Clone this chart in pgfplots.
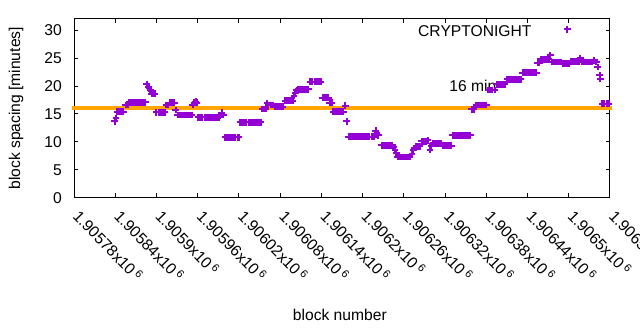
\documentclass[border=0pt]{standalone}
\usepackage{fontspec}
\setmainfont{Liberation Sans}
\usepackage{pgfplots}
\pgfplotsset{compat=1.18}
\definecolor{gpviolet}{HTML}{9400D3}
\definecolor{gporange}{HTML}{FFA500}
\newcommand\xl[1]{#1x10\,\textsuperscript{6}}
\begin{document}
\begin{tikzpicture}
\useasboundingbox (0bp,0bp) rectangle (640bp,330bp);
\begin{axis}[
  at={(74bp,132.3bp)}, anchor=south west,
  scale only axis, width=536bp, height=178.7bp,
  xmin=1905780, xmax=1906560, ymin=0, ymax=32,
  clip=false,
  scaled x ticks=false, scaled y ticks=false,
  axis line style={line width=1bp},
  every tick/.style={line width=1bp, black},
  tick align=inside, tick pos=both,
  major tick length=4.5bp,
  font=\fontsize{15.7}{18}\selectfont,
  /pgf/number format/assume math mode=true,
  ytick={0,5,10,15,20,25,30},
  yticklabel style={inner sep=0pt, xshift=-12bp},
  xtick={1905780,1905840,1905900,1905960,1906020,1906080,1906140,1906200,1906260,1906320,1906380,1906440,1906500,1906560},
  xticklabels={\xl{1.90578},\xl{1.90584},\xl{1.9059},\xl{1.90596},\xl{1.90602},\xl{1.90608},\xl{1.90614},\xl{1.9062},\xl{1.90626},\xl{1.90632},\xl{1.90638},\xl{1.90644},\xl{1.9065},\xl{1.90656}},
  xticklabel style={anchor=base west, inner sep=0pt, xshift=-2bp, yshift=-19.5bp, rotate=-46},
  xlabel={block number},
  ylabel={block spacing [minutes]},
  every axis x label/.style={at={(axis description cs:0.496,-0.656)}, anchor=center},
  every axis y label/.style={at={(axis description cs:-0.1082,0.5)}, rotate=90, anchor=center},
  legend plot pos=right,
  legend cell align=right,
  legend image code/.code={\path (0bp,0bp); \draw[#1] plot coordinates {(35bp,3bp)};},
  legend style={at={(axis description cs:0.9274,0.927)}, anchor=east, draw=none, fill=none, inner sep=0pt, nodes={inner sep=0pt}, column sep=0pt},
]
\node[anchor=west, inner sep=0pt] at (axis cs:1906326,20) {16 min};
\addplot[gpviolet, only marks, mark=+, mark size=3.4bp, line width=2bp]
coordinates {
(1905839,13.7) (1905841,14.2)
(1905843,15.4) (1905846,15.4) (1905849,15.4) (1905852,15.4)
(1905855,16.6) (1905858,16.6)
(1905860,17.1) (1905863,17.1) (1905866,17.1) (1905869,17.1) (1905872,17.1) (1905875,17.1) (1905878,17.1) (1905881,17.1) (1905884,17.1)
(1905886,20.3) (1905888,19.9) (1905889,19.6) (1905891,19.2)
(1905893,18.6) (1905896,18.6) (1905898,18.6)
(1905900,15.3) (1905903,15.3) (1905906,15.3) (1905909,15.3) (1905912,15.3)
(1905914,16.6) (1905917,16.6) (1905920,17.0) (1905923,17.0) (1905926,17.0)
(1905928,15.7)
(1905931,14.8) (1905934,14.8) (1905937,14.8) (1905940,14.8) (1905943,14.8) (1905946,14.8) (1905949,14.8) (1905951,14.8)
(1905953,16.6) (1905955,17.0) (1905957,17.2) (1905959,17.0)
(1905961,14.4) (1905964,14.4) (1905967,14.4) (1905970,14.4) (1905973,14.4) (1905976,14.4) (1905979,14.4) (1905982,14.4) (1905985,14.4) (1905988,14.4) (1905991,14.4)
(1905993,14.7) (1905995,15.2) (1905997,14.8)
(1906000,10.8) (1906003,10.8) (1906006,10.8) (1906009,10.8) (1906012,10.8) (1906015,10.8) (1906018,10.8) (1906020,10.8)
(1906022,13.5) (1906025,13.5) (1906028,13.5) (1906031,13.5) (1906034,13.5) (1906037,13.5) (1906040,13.5) (1906043,13.5) (1906046,13.5) (1906049,13.5) (1906052,13.5)
(1906054,15.9) (1906057,15.9) (1906059,15.9) (1906061,16.9) (1906063,16.6) (1906066,16.6) (1906069,16.6) (1906072,16.3) (1906075,16.3) (1906078,16.3) (1906081,16.3) (1906084,16.3)
(1906087,17.4) (1906090,17.4) (1906093,17.4) (1906096,17.4) (1906098,17.4)
(1906100,18.2) (1906102,18.8) (1906104,19.2)
(1906106,19.4) (1906109,19.4) (1906112,19.4) (1906115,19.4) (1906118,19.4) (1906121,19.4)
(1906124,20.8) (1906127,20.8) (1906130,20.8) (1906133,20.8) (1906136,20.8) (1906139,20.8)
(1906142,17.9) (1906145,17.9) (1906148,17.9) (1906150,17.9)
(1906152,17.0) (1906155,17.0)
(1906157,15.4) (1906160,15.4) (1906163,15.4) (1906166,15.4) (1906169,15.4) (1906172,15.4)
(1906175,16.5) (1906177,13.7)
(1906180,10.9) (1906183,10.9) (1906186,10.9) (1906189,10.9) (1906192,10.9) (1906195,10.9) (1906198,10.9) (1906201,10.9) (1906204,10.9) (1906207,10.9) (1906210,10.9) (1906213,10.9) (1906216,10.9)
(1906219,12.0) (1906221,11.5) (1906223,11.2)
(1906228,9.4) (1906231,9.4) (1906234,9.4) (1906237,9.4) (1906240,9.4) (1906243,9.4)
(1906245,9.0) (1906247,8.5) (1906249,8.0)
(1906251,7.3) (1906254,7.3) (1906257,7.3) (1906260,7.3) (1906263,7.3) (1906266,7.3) (1906269,7.3)
(1906272,7.9) (1906274,8.5) (1906276,8.9)
(1906278,9.2) (1906281,9.2) (1906283,9.2)
(1906286,10.1) (1906289,10.1) (1906292,10.1) (1906295,10.3)
(1906298,8.6) (1906300,9.3)
(1906302,9.7) (1906305,9.7) (1906308,9.7) (1906311,9.7) (1906314,9.7)
(1906317,9.3) (1906320,9.3) (1906323,9.3) (1906326,9.3) (1906329,9.3)
(1906331,11.2) (1906334,11.2) (1906337,11.2) (1906340,11.2) (1906343,11.2) (1906346,11.2) (1906349,11.2) (1906352,11.2) (1906355,11.2) (1906357,11.2)
(1906359,15.8) (1906362,15.8)
(1906365,16.6) (1906368,16.6) (1906371,16.6) (1906374,16.6) (1906377,16.6) (1906380,16.6)
(1906383,19.3) (1906386,19.3) (1906389,19.3) (1906392,19.3)
(1906395,20.3) (1906398,20.3) (1906401,20.3) (1906404,20.3) (1906407,20.3)
(1906410,21.2) (1906413,21.2) (1906416,21.2) (1906419,21.2) (1906422,21.2) (1906425,21.2) (1906428,21.2) (1906430,21.2)
(1906433,22.4) (1906436,22.4) (1906439,22.4) (1906442,22.4) (1906445,22.4) (1906448,22.4) (1906451,22.4) (1906453,22.4)
(1906455,24.2) (1906457,24.2)
(1906459,24.8) (1906462,24.8) (1906465,24.8) (1906468,24.8) (1906471,24.8) (1906473,25.5)
(1906475,24.3) (1906478,24.3) (1906481,24.3) (1906484,24.3) (1906487,24.3) (1906489,24.3)
(1906491,24.0) (1906494,24.0) (1906497,24.0) (1906500,24.0)
(1906503,24.4) (1906506,24.4) (1906509,24.4) (1906512,24.4) (1906515,24.4) (1906517,25.0)
(1906519,24.3) (1906522,24.3) (1906525,24.3) (1906528,24.3) (1906531,24.3) (1906534,24.3) (1906537,24.6) (1906540,24.3)
(1906542,23.4) (1906545,21.9) (1906546,21.3)
(1906549,16.8) (1906552,16.8) (1906555,16.8) (1906558,16.8)
};
\addlegendentry{CRYPTONIGHT}
\addplot[gporange, line width=4bp, line cap=rect, forget plot] coordinates {(1905780,16) (1906560,16)};
\end{axis}
\end{tikzpicture}
\end{document}
